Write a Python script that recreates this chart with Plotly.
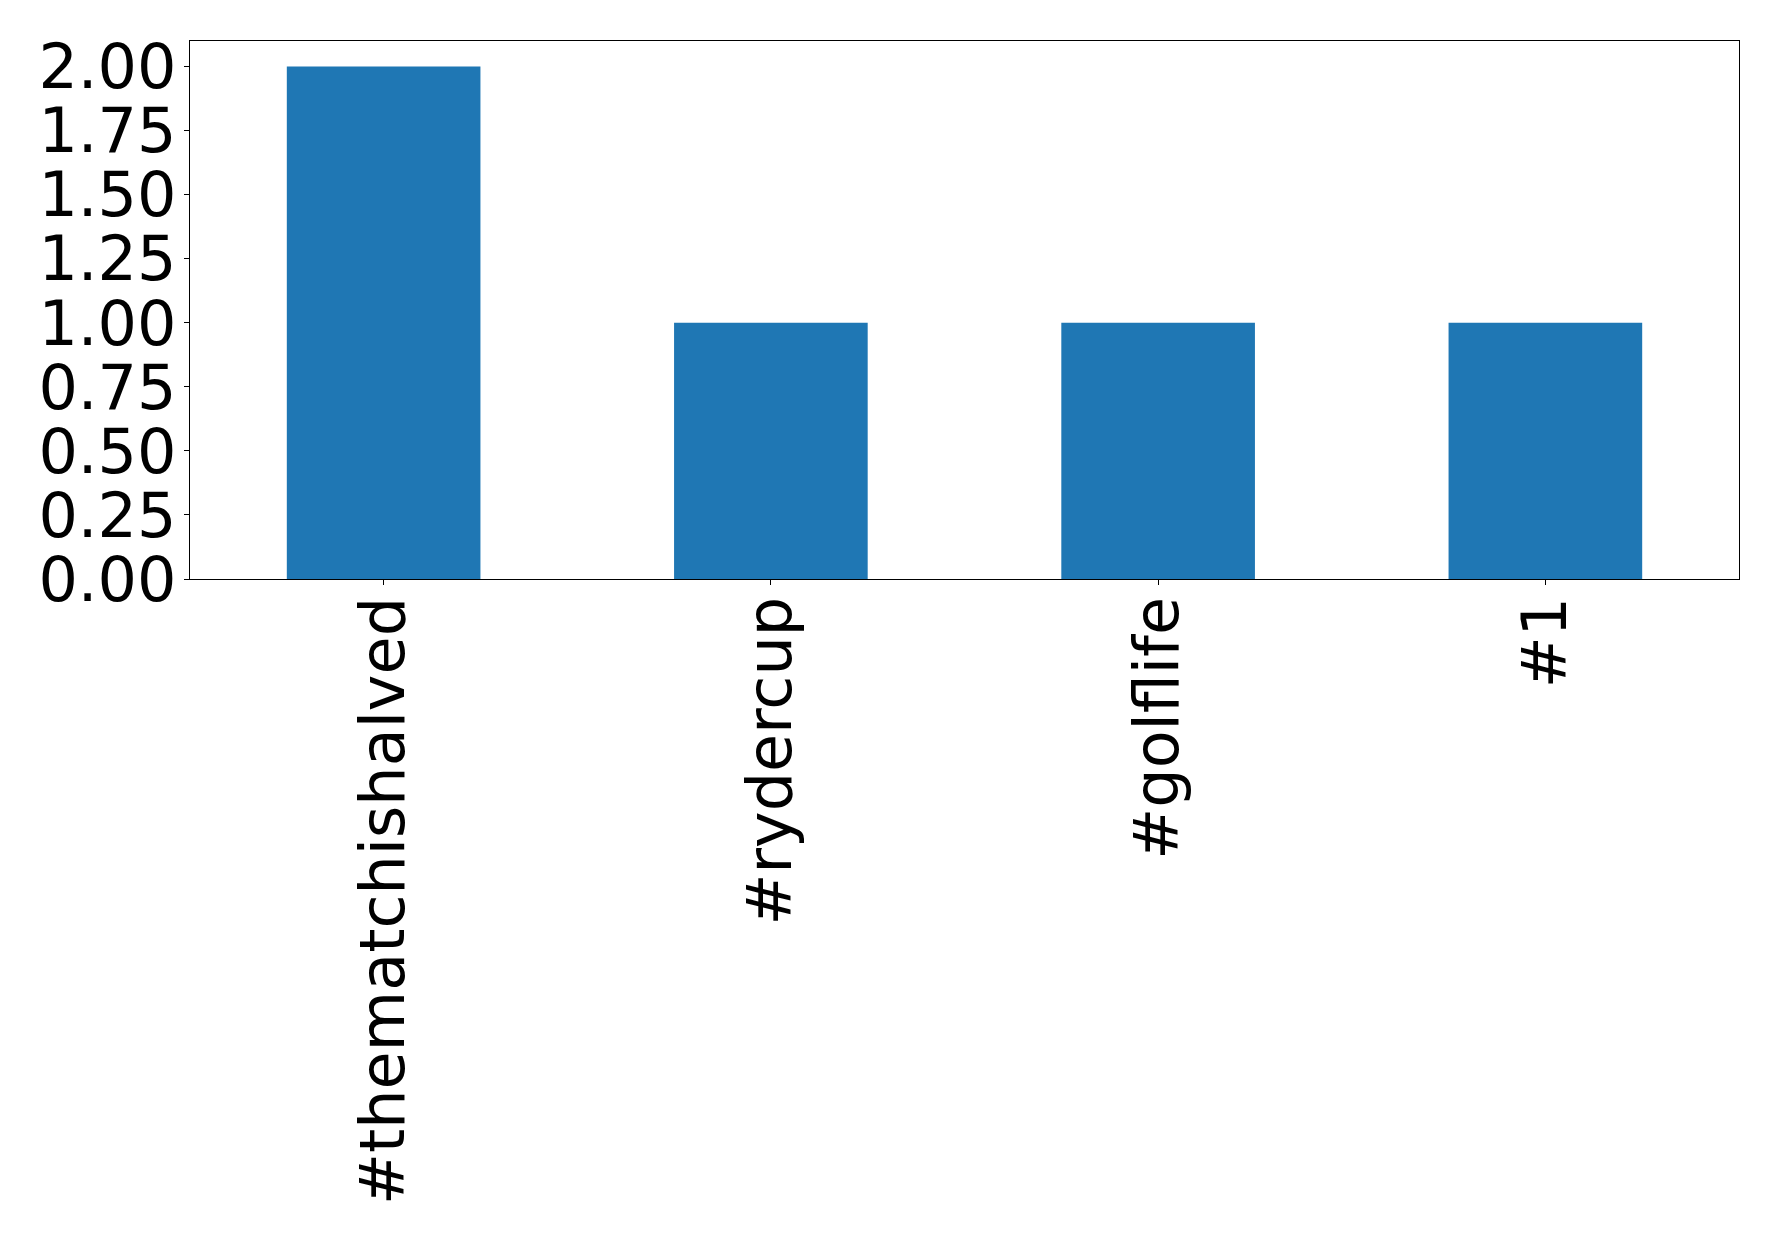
import plotly.graph_objects as go

categories = ["#thematchishalved", "#rydercup", "#golflife", "#1"]
values = [2, 1, 1, 1]
y_ticks = [0, 0.25, 0.5, 0.75, 1.0, 1.25, 1.5, 1.75, 2.0]
y_tick_labels = ["0.00", "0.25", "0.50", "0.75", "1.00", "1.25", "1.50", "1.75", "2.00"]

fig = go.Figure(
    go.Bar(
        x=list(range(len(categories))),
        y=values,
        width=0.5,
        marker=dict(color="#1f77b4", line=dict(width=0)),
    )
)

font = dict(family="DejaVu Sans", size=62, color="black")

fig.update_layout(
    width=1770,
    height=1233,
    margin=dict(l=181.5, r=39, t=32.5, b=662, autoexpand=False),
    paper_bgcolor="white",
    plot_bgcolor="white",
    showlegend=False,
    font=font,
)
fig.update_xaxes(
    range=[-0.5, 3.5],
    tickmode="array",
    tickvals=list(range(len(categories))),
    ticktext=categories,
    tickangle=-90,
    ticks="outside",
    ticklen=5,
    tickwidth=1.3,
    tickcolor="black",
    showline=True,
    linecolor="black",
    linewidth=1.3,
    mirror=True,
    showgrid=False,
    zeroline=False,
    tickfont=font,
    ticklabelstandoff=-13,
)
fig.update_yaxes(
    range=[0, 2.1],
    tickmode="array",
    tickvals=y_ticks,
    ticktext=y_tick_labels,
    ticks="outside",
    ticklen=5,
    tickwidth=1.3,
    tickcolor="black",
    showline=True,
    linecolor="black",
    linewidth=1.3,
    mirror=True,
    showgrid=False,
    zeroline=False,
    tickfont=font,
    ticklabelstandoff=-5,
)

fig.write_html("out.html")
